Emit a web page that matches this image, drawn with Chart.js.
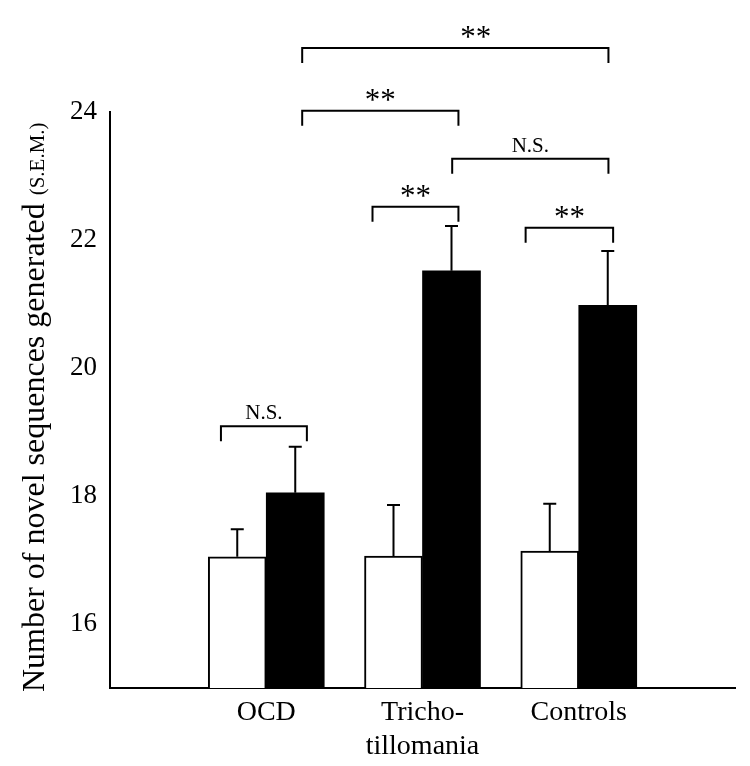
<!DOCTYPE html>
<html lang="en">
<head>
<meta charset="UTF-8">
<title>Novel sequences generated</title>
<script src="https://cdn.jsdelivr.net/npm/chart.js"></script>
<style>
    html, body { margin: 0; padding: 0; background: #fff; }
    .chart-container { position: relative; width: 750px; height: 766px; }
</style>
</head>
<body>
<div class="chart-container"><canvas id="chart"></canvas></div>
<script>
// groups sit at x = 1, 2, 3 on a 0..4 axis
const categories = ['OCD', ['Tricho-', 'tillomania'], 'Controls'];
const categoryPos = [1, 2, 3];
const whiteMeans = [17.05, 17.06, 17.14];
const whiteSem = [0.43, 0.80, 0.74];
const blackMeans = [18.05, 21.52, 20.98];
const blackSem = [0.72, 0.70, 0.85];
const yTicks = [16, 18, 20, 22, 24];

// significance brackets, in axis units
const brackets = [
    { x1: 0.71, x2: 1.26, y: 19.09, label: 'N.S.' },
    { x1: 1.68, x2: 2.23, y: 22.52, label: '**' },
    { x1: 2.66, x2: 3.22, y: 22.19, label: '**' },
    { x1: 2.19, x2: 3.19, y: 23.27, label: 'N.S.' },
    { x1: 1.23, x2: 2.23, y: 24.02, label: '**' },
    { x1: 1.23, x2: 3.19, y: 25.00, label: '**', labelX: 2.34 }
];

const FONT = "'Liberation Serif', 'Times New Roman', serif";

const errorBars = {
    id: 'errorBars',
    afterDatasetsDraw(chart) {
        const ctx = chart.ctx;
        const y = chart.scales.y;
        const sems = [whiteSem, blackSem];
        const means = [whiteMeans, blackMeans];
        ctx.save();
        ctx.strokeStyle = '#000';
        ctx.lineWidth = 2;
        chart.data.datasets.forEach((ds, d) => {
            chart.getDatasetMeta(d).data.forEach((bar, i) => {
                const top = y.getPixelForValue(means[d][i] + sems[d][i]);
                ctx.beginPath();
                ctx.moveTo(bar.x, bar.y);
                ctx.lineTo(bar.x, top);
                ctx.moveTo(bar.x - 6.5, top);
                ctx.lineTo(bar.x + 6.5, top);
                ctx.stroke();
            });
        });
        ctx.restore();
    }
};

const sigBrackets = {
    id: 'sigBrackets',
    afterDraw(chart) {
        const ctx = chart.ctx;
        const xs = chart.scales.x, ys = chart.scales.y;
        ctx.save();
        ctx.strokeStyle = '#000';
        ctx.fillStyle = '#000';
        ctx.lineWidth = 2;
        ctx.textAlign = 'center';
        ctx.textBaseline = 'alphabetic';
        brackets.forEach(b => {
            const p1 = xs.getPixelForValue(b.x1);
            const p2 = xs.getPixelForValue(b.x2);
            const py = ys.getPixelForValue(b.y);
            ctx.beginPath();
            ctx.moveTo(p1, py + 15);
            ctx.lineTo(p1, py);
            ctx.lineTo(p2, py);
            ctx.lineTo(p2, py + 15);
            ctx.stroke();
            const lx = b.labelX !== undefined ? xs.getPixelForValue(b.labelX) : (p1 + p2) / 2;
            if (b.label === '**') {
                ctx.font = '31px ' + FONT;
                ctx.fillText(b.label, lx, py - 1);
            } else {
                ctx.font = '21px ' + FONT;
                ctx.fillText(b.label, lx, py - 7);
            }
        });
        ctx.restore();
    }
};

const yTitle = {
    id: 'yTitle',
    afterDraw(chart) {
        const ctx = chart.ctx;
        ctx.save();
        ctx.translate(44, 692);
        ctx.rotate(-Math.PI / 2);
        ctx.fillStyle = '#000';
        ctx.textAlign = 'left';
        ctx.textBaseline = 'alphabetic';
        ctx.font = '32px ' + FONT;
        const main = 'Number of novel sequences generated ';
        ctx.fillText(main, 0, 0);
        const w = ctx.measureText(main).width;
        ctx.font = '21px ' + FONT;
        ctx.fillText('(S.E.M.)', w, 0);
        ctx.restore();
    }
};

new Chart(document.getElementById('chart'), {
    type: 'bar',
    data: {
        datasets: [{
            data: categoryPos.map((x, i) => ({ x: x, y: whiteMeans[i] })),
            backgroundColor: '#ffffff',
            borderColor: '#000000',
            borderWidth: 2,
            barThickness: 58
        }, {
            data: categoryPos.map((x, i) => ({ x: x, y: blackMeans[i] })),
            backgroundColor: '#000000',
            borderColor: '#000000',
            borderWidth: 0,
            barThickness: 58
        }]
    },
    options: {
        responsive: true,
        maintainAspectRatio: false,
        animation: false,
        layout: { padding: { top: 112, right: 15, left: 0, bottom: 0 } },
        plugins: {
            legend: { display: false },
            tooltip: { enabled: false }
        },
        scales: {
            x: {
                type: 'linear',
                min: 0,
                max: 4,
                offset: false,
                afterBuildTicks: s => { s.ticks = categoryPos.map(v => ({ value: v })); },
                afterFit: s => { s.height = 78; },
                grid: { display: false, drawTicks: false, offset: false },
                border: { display: true, color: '#000', width: 2 },
                ticks: {
                    color: '#000',
                    font: { family: FONT, size: 28 },
                    padding: 8,
                    maxRotation: 0,
                    minRotation: 0,
                    autoSkip: false,
                    callback: (v, i) => categories[i]
                }
            },
            y: {
                min: 15,
                max: 24,
                afterBuildTicks: s => { s.ticks = yTicks.map(v => ({ value: v })); },
                afterFit: s => { s.width = 110; },
                grid: { display: false, drawTicks: false },
                border: { display: true, color: '#000', width: 2 },
                ticks: {
                    color: '#000',
                    font: { family: FONT, size: 27 },
                    padding: 13
                }
            }
        }
    },
    plugins: [errorBars, sigBrackets, yTitle]
});
</script>
</body>
</html>
